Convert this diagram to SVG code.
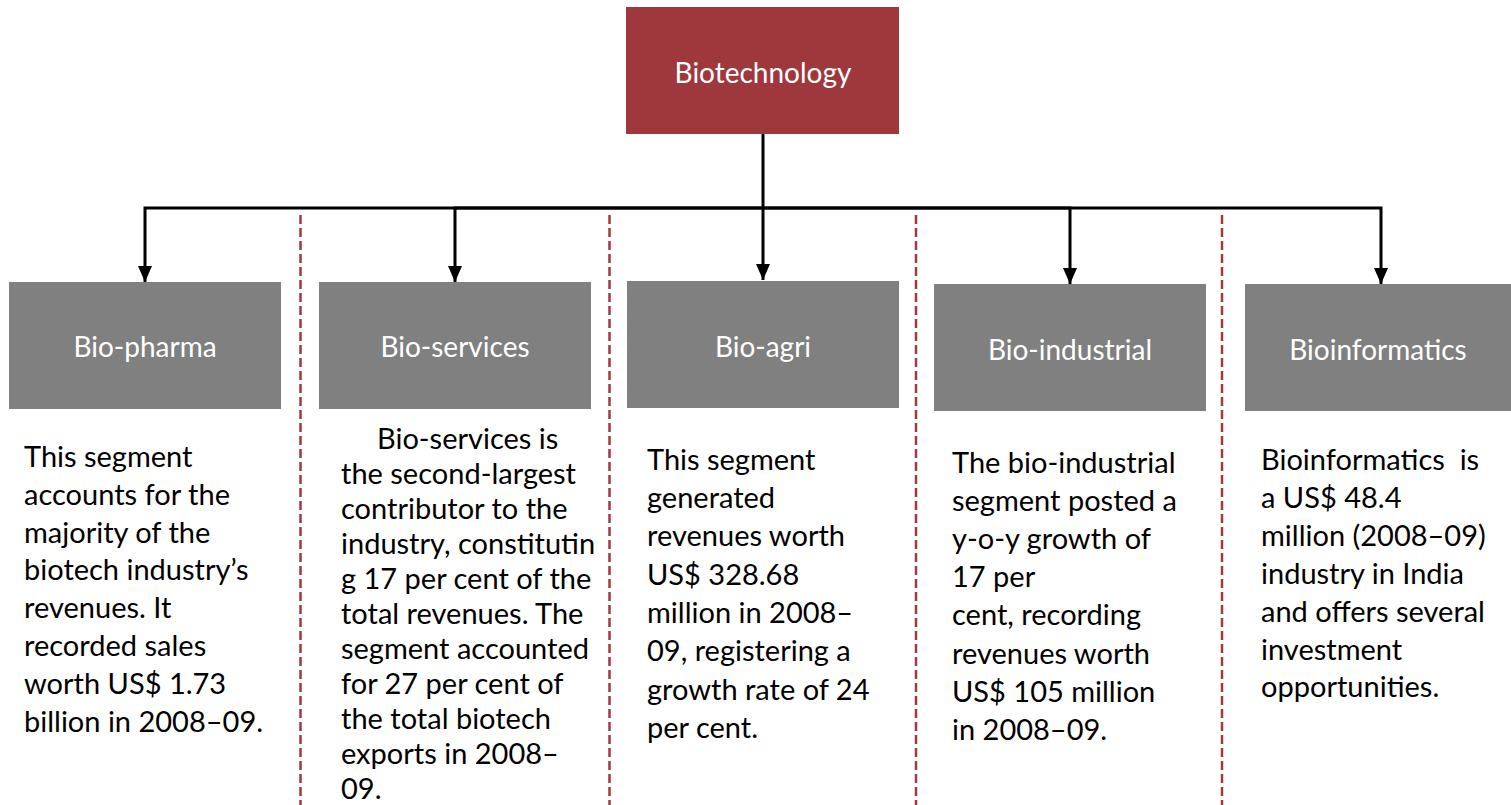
<svg xmlns="http://www.w3.org/2000/svg" width="1511" height="805" viewBox="0 0 1511 805">
<style>
.bg{fill:#ffffff}
.root{fill:#9e383d}
.seg{fill:#808080}
.lbl{font-family:Lato,"Liberation Sans",sans-serif;font-size:28px;fill:#ffffff;text-anchor:middle}
.body{font-family:Lato,"Liberation Sans",sans-serif;font-size:29px;fill:#000000}
.conn{fill:none;stroke:#000000;stroke-width:3}
.div{fill:none;stroke:#a3383f;stroke-width:2.5;stroke-dasharray:9 4}
</style>
<defs>
<marker id="arr" viewBox="0 0 16 14" refX="16" refY="7" markerWidth="16" markerHeight="14" markerUnits="userSpaceOnUse" orient="auto">
<path d="M0,0 L16,7 L0,14 z" fill="#000000"/>
</marker>
</defs>
<rect class="bg" x="0" y="0" width="1511" height="805"/>
<g id="dividers">
<line class="div" x1="300.5" y1="215" x2="300.5" y2="805"/>
<line class="div" x1="609.5" y1="215" x2="609.5" y2="805"/>
<line class="div" x1="916" y1="215" x2="916" y2="805"/>
<line class="div" x1="1222" y1="215" x2="1222" y2="805"/>
</g>
<g id="connectors">
<path class="conn" d="M763,134 V280" marker-end="url(#arr)"/>
<path class="conn" d="M763,208 H145 V282" marker-end="url(#arr)"/>
<path class="conn" d="M763,208 H455 V282" marker-end="url(#arr)"/>
<path class="conn" d="M763,208 H1070 V284" marker-end="url(#arr)"/>
<path class="conn" d="M763,208 H1381 V284" marker-end="url(#arr)"/>
</g>
<g id="biotechnology">
<rect class="root" x="626" y="7" width="273" height="127"/>
<text class="lbl" x="763" y="83">Biotechnology</text>
</g>
<g id="bio-pharma">
<rect class="seg" x="9" y="282" width="272" height="127"/>
<text class="lbl" x="145" y="357">Bio-pharma</text>
<text class="body" x="24" y="467">
<tspan x="24" y="467">This segment</tspan>
<tspan x="24" y="505">accounts for the</tspan>
<tspan x="24" y="543">majority of the</tspan>
<tspan x="24" y="580">biotech industry’s</tspan>
<tspan x="24" y="618">revenues. It</tspan>
<tspan x="24" y="656">recorded sales</tspan>
<tspan x="24" y="694">worth US$ 1.73</tspan>
<tspan x="24" y="732">billion in 2008–09.</tspan>
</text>
</g>
<g id="bio-services">
<rect class="seg" x="319" y="282" width="272" height="127"/>
<text class="lbl" x="455" y="357">Bio-services</text>
<text class="body" x="377" y="449">
<tspan x="377" y="449">Bio-services is</tspan>
<tspan x="341" y="484">the second-largest</tspan>
<tspan x="341" y="519">contributor to the</tspan>
<tspan x="341" y="554">industry, constitutin</tspan>
<tspan x="341" y="589">g 17 per cent of the</tspan>
<tspan x="341" y="624">total revenues. The</tspan>
<tspan x="341" y="659">segment accounted</tspan>
<tspan x="341" y="694">for 27 per cent of</tspan>
<tspan x="341" y="729">the total biotech</tspan>
<tspan x="341" y="764">exports in 2008–</tspan>
<tspan x="341" y="799">09.</tspan>
</text>
</g>
<g id="bio-agri">
<rect class="seg" x="627" y="281" width="272" height="127"/>
<text class="lbl" x="763" y="357">Bio-agri</text>
<text class="body" x="647" y="470">
<tspan x="647" y="470">This segment</tspan>
<tspan x="647" y="508">generated</tspan>
<tspan x="647" y="546">revenues worth</tspan>
<tspan x="647" y="585">US$ 328.68</tspan>
<tspan x="647" y="623">million in 2008–</tspan>
<tspan x="647" y="661">09, registering a</tspan>
<tspan x="647" y="700">growth rate of 24</tspan>
<tspan x="647" y="738">per cent.</tspan>
</text>
</g>
<g id="bio-industrial">
<rect class="seg" x="934" y="284" width="272" height="127"/>
<text class="lbl" x="1070" y="360">Bio-industrial</text>
<text class="body" x="952" y="473">
<tspan x="952" y="473">The bio-industrial</tspan>
<tspan x="952" y="511">segment posted a</tspan>
<tspan x="952" y="549">y-o-y growth of</tspan>
<tspan x="952" y="587">17 per</tspan>
<tspan x="952" y="625">cent, recording</tspan>
<tspan x="952" y="664">revenues worth</tspan>
<tspan x="952" y="702">US$ 105 million</tspan>
<tspan x="952" y="740">in 2008–09.</tspan>
</text>
</g>
<g id="bioinformatics">
<rect class="seg" x="1245" y="284" width="272" height="127"/>
<text class="lbl" x="1378" y="360">Bioinformatics</text>
<text class="body" x="1261" y="470" xml:space="preserve">
<tspan x="1261" y="470">Bioinformatics  is</tspan>
<tspan x="1261" y="508">a US$ 48.4</tspan>
<tspan x="1261" y="546">million (2008–09)</tspan>
<tspan x="1261" y="584">industry in India</tspan>
<tspan x="1261" y="622">and offers several</tspan>
<tspan x="1261" y="660">investment</tspan>
<tspan x="1261" y="697">opportunities.</tspan>
</text>
</g>
</svg>
